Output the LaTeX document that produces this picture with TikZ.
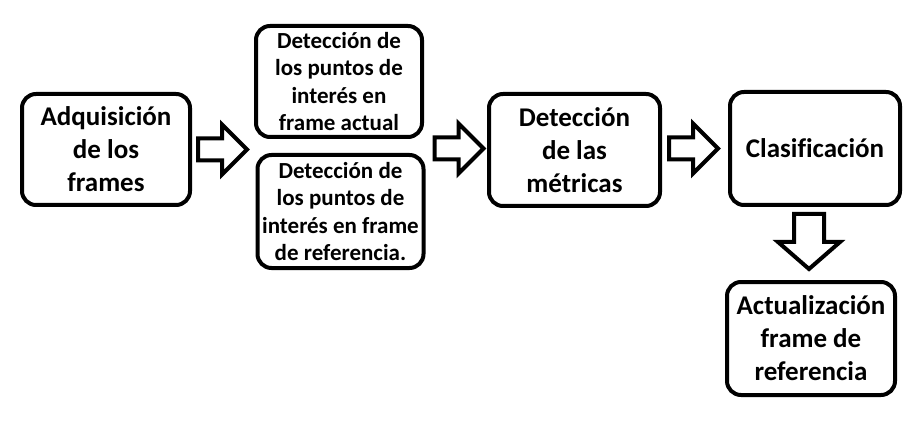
\documentclass[tikz,border=0pt]{standalone}
\usepackage{fontspec}
\setmainfont[Ligatures={NoCommon}]{Carlito}
\begin{document}
\begin{tikzpicture}[x=1pt,y=-1pt,
  box/.style={draw=black, line width=4pt, rounded corners=14pt, align=center, inner sep=0pt, font=\bfseries\fontsize{27}{33}\selectfont},
  smallbox/.style={box, font=\bfseries\fontsize{23}{27.5}\selectfont},
  blockarrow/.style={draw=black, line width=4pt, line join=miter, fill=white},
  rarrow/.pic={\draw[blockarrow] (0,-11) -- (24,-11) -- (24,-25) -- (49,0) -- (24,25) -- (24,11) -- (0,11) -- cycle;},
  darrow/.pic={\draw[blockarrow] (-15,0) -- (-15,28) -- (-31,28) -- (0,55) -- (31,28) -- (15,28) -- (15,0) -- cycle;}
]
\useasboundingbox[fill=white] (0,0) rectangle (920,438);
\node[box, minimum width=168pt, minimum height=111pt] (b1) at (106,149.5) {Adquisición\\de los\\frames};
\node[smallbox, minimum width=166pt, minimum height=111pt] (b2) at (339,81.5) {Detección de\\los puntos de\\interés en\\frame actual};
\node[smallbox, minimum width=166pt, minimum height=113pt] (b3) at (340.5,211.5) {Detección de\\los puntos de\\interés en frame\\de referencia.};
\node[box, minimum width=171pt, minimum height=112pt] (b4) at (574.5,150) {Detección\\de las\\métricas};
\node[box, minimum width=170pt, minimum height=113pt] (b5) at (815,148.5) {Clasificación};
\node[box, minimum width=168pt, minimum height=113pt] (b6) at (811,338.5) {Actualización\\frame de\\referencia};
\path (b1.east) ++(6,0) pic {rarrow};
\path (b3.east |- b4.west) ++(9,-1.5) pic {rarrow};
\path (b4.east) ++(7,-1.5) pic {rarrow};
\path (b5.south) ++(-6,7) pic {darrow};
\end{tikzpicture}
\end{document}
